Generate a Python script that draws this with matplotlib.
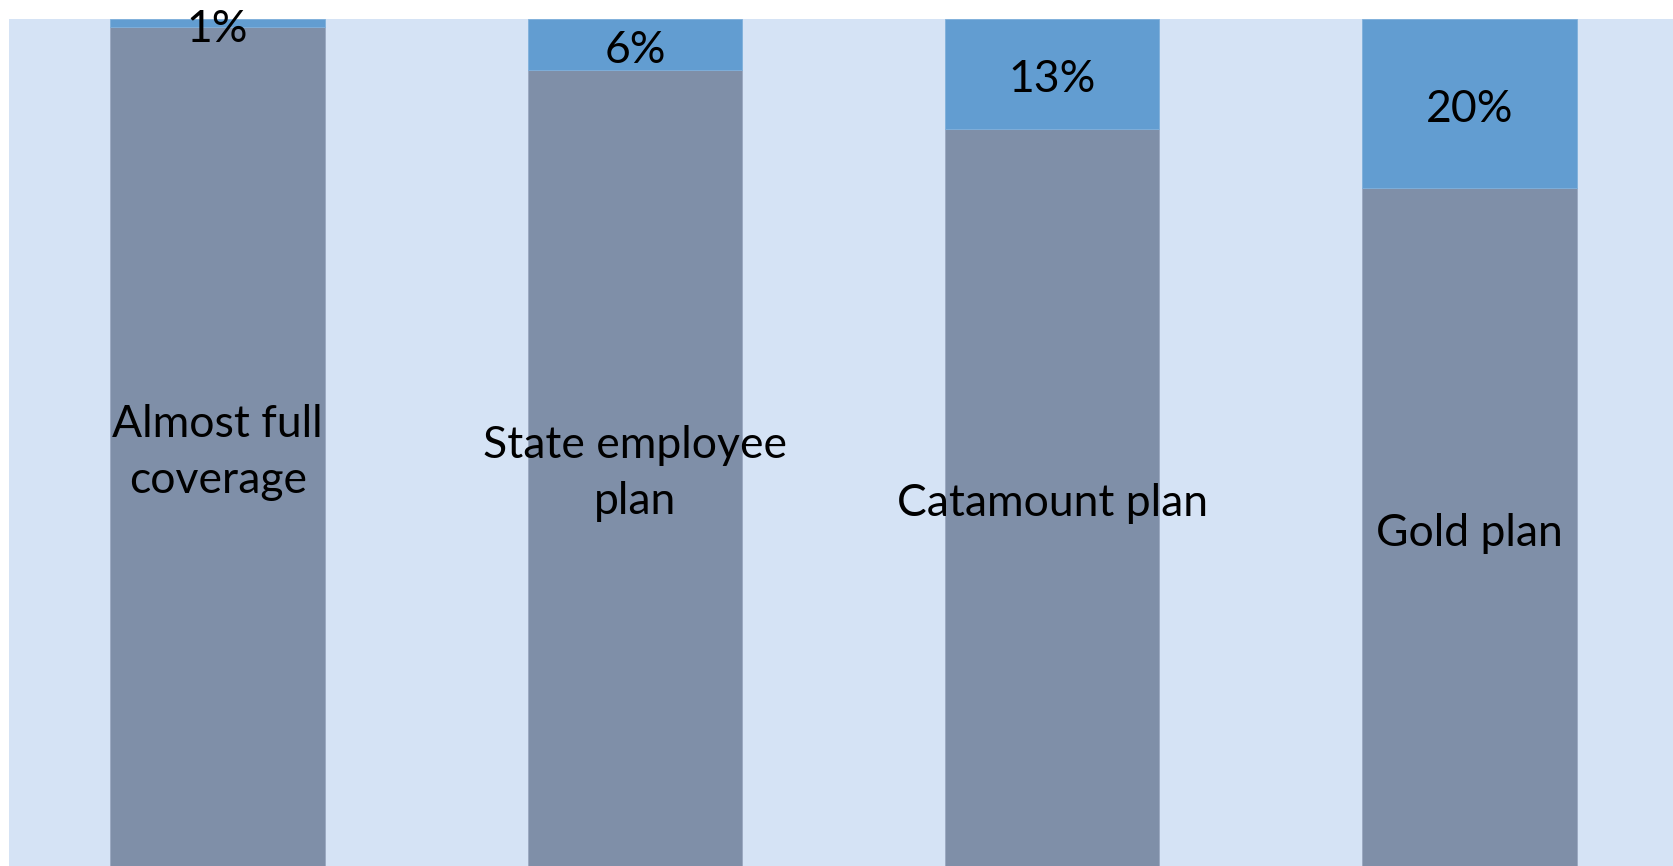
import matplotlib
matplotlib.use('Agg')
import matplotlib.pyplot as plt
import numpy as np

categories = ['Almost full\ncoverage', 'State employee\nplan', 'Catamount plan', 'Gold plan']
covered = [0.99, 0.94, 0.87, 0.80]
out_of_pocket = [0.01, 0.06, 0.13, 0.20]
pct_labels = ['1%', '6%', '13%', '20%']

grey = '#7F8FA8'
blue = '#629DD1'
bg = '#D5E3F5'

plt.rcParams['font.family'] = ['Lato', 'DejaVu Sans']

fig = plt.figure(figsize=(16.74, 8.66), dpi=100)
ax = fig.add_axes([9 / 1674, 0, 1665 / 1674, 847 / 866])
ax.set_facecolor(bg)

x = np.arange(len(categories))
w = 0.514
ax.bar(x, covered, w, color=grey, edgecolor='#9AA8C0', linewidth=0.6)
ax.bar(x, out_of_pocket, w, bottom=covered, color=blue, edgecolor='#7FB0DC', linewidth=0.6)

# Calibri sits a little lower than Lato, nudge labels down
dy = 0.007
for i in range(len(categories)):
    ax.text(x[i], covered[i] / 2 - dy, categories[i], ha='center', va='center',
            fontsize=32, color='black', linespacing=1.45)
    ax.text(x[i], covered[i] + out_of_pocket[i] / 2 - dy, pct_labels[i], ha='center', va='center',
            fontsize=32, color='black')

ax.set_xlim(-0.5, 3.49)
ax.set_ylim(0, 1)
ax.set_xticks([])
ax.set_yticks([])
for s in ax.spines.values():
    s.set_visible(False)

fig.savefig('out.png', dpi=100, facecolor='white')
